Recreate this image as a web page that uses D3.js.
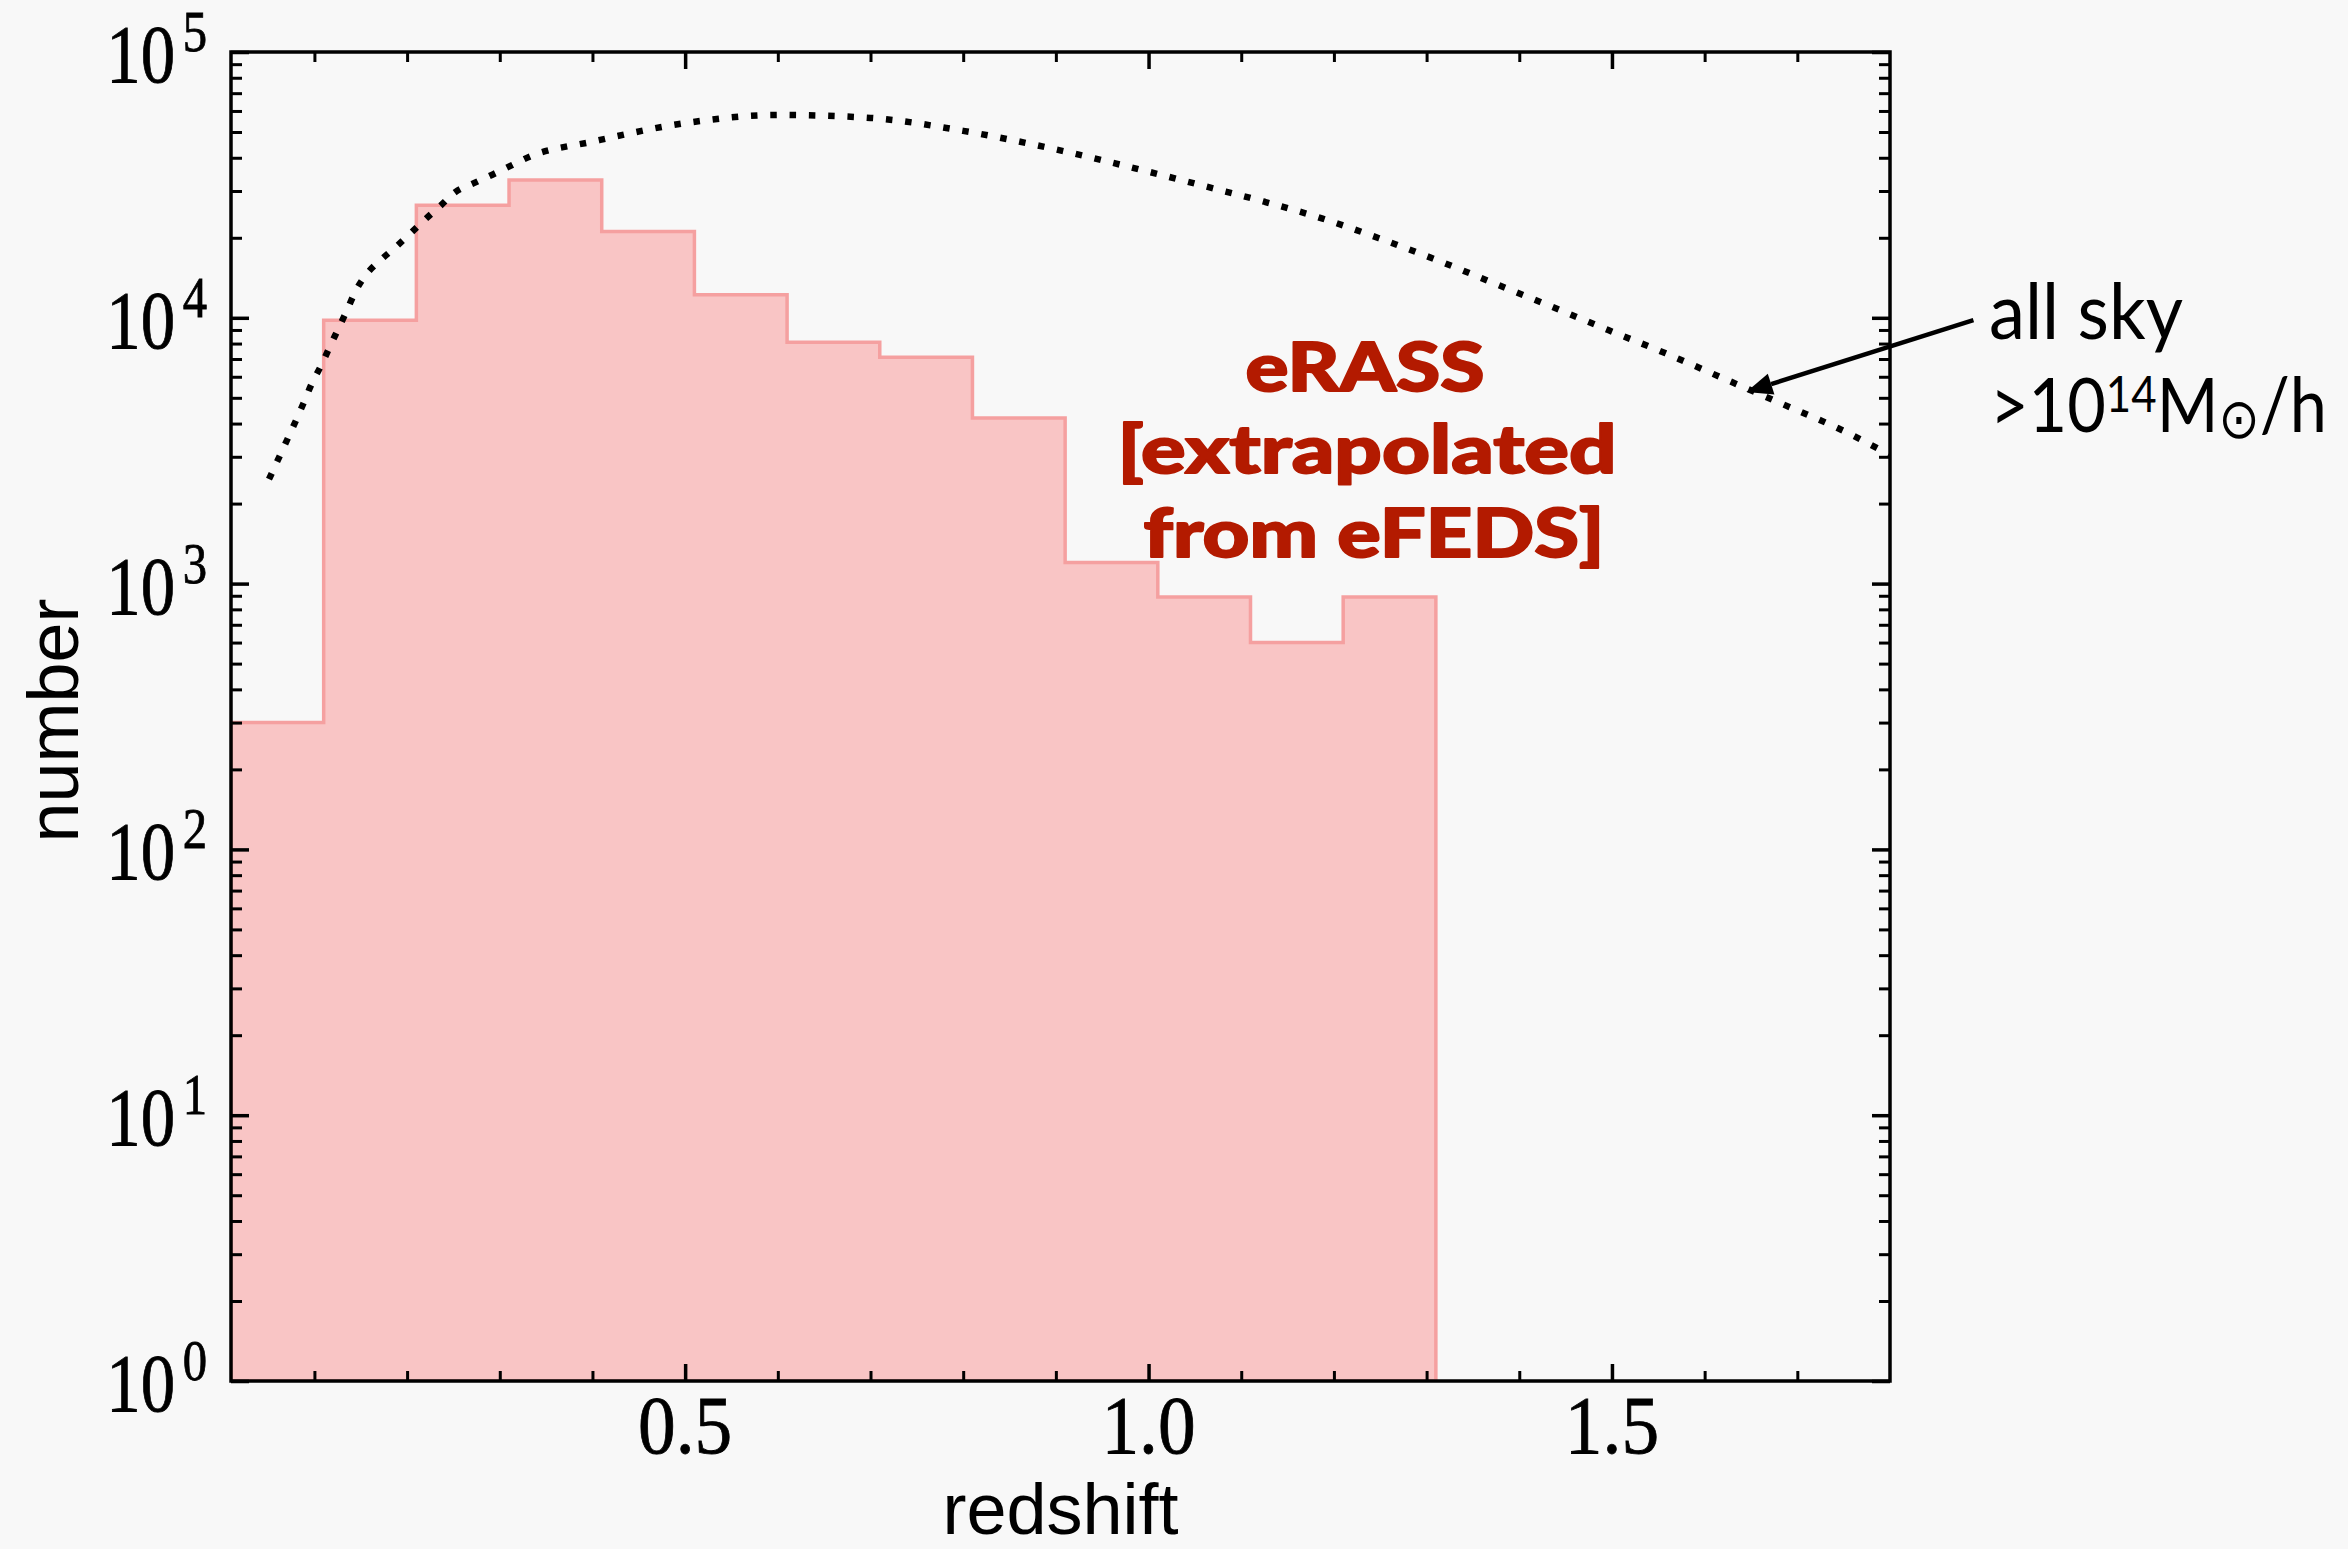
<!DOCTYPE html>
<html><head><meta charset="utf-8">
<script src="https://cdn.jsdelivr.net/npm/d3@7"></script>
<style>html,body{margin:0;padding:0;background:#f8f8f8;} svg{display:block;}</style>
</head><body>
<script>
// ---------- data ----------
const binEdges  = [0.01,0.11,0.21,0.31,0.41,0.51,0.61,0.71,0.81,0.91,1.01,1.11,1.21,1.31];
const binCounts = [300,9800,26500,33000,21100,12200,8100,7100,4200,1200,890,600,890];

const skyZ = [0.051,0.0705,0.0795,0.0885,0.097,0.107,0.1165,0.1257,0.135,0.144,0.1555,0.1715,0.1877,0.204,0.22,0.236,0.252,0.272,0.292,0.312,0.332,0.40,0.50,0.60,0.70,0.80,0.90,1.00,1.063,1.125,1.187,1.249,1.311,1.373,1.435,1.496,1.558,1.620,1.682,1.744,1.80];
const skyN = [2470,3470,4065,4795,5640,6590,7770,9080,10640,12530,14490,16500,18460,20840,23550,26400,29700,32100,34550,37350,40360,46000,54000,58000,56500,50500,43000,35450,31130,27330,23660,19900,16500,13480,11020,8990,7350,5920,4770,3840,3050];

const xMajorTicks  = [0.5,1.0,1.5];
const xMajorLabels = ["0.5","1.0","1.5"];
const xMinorTicks  = [0.1,0.2,0.3,0.4,0.6,0.7,0.8,0.9,1.1,1.2,1.3,1.4,1.6,1.7];
const yMajorTicks  = [1,10,100,1000,10000,100000];
const yExponents   = ["0","1","2","3","4","5"];

const xTitle = "redshift";
const yTitle = "number";
const surveyLabel = ["eRASS","[extrapolated","from eFEDS]"];
const arrowTip  = {z:1.645, n:5260};
const arrowTail = {z:1.89,  n:9800};

// ---------- layout ----------
const W=2348, H=1549;
const M={left:231,right:1890,top:52,bottom:1381};
const svg = d3.select("body").append("svg").attr("width",W).attr("height",H);
svg.append("rect").attr("width",W).attr("height",H).attr("fill","#f8f8f8");

const x = d3.scaleLinear().domain([0.01,1.8]).range([M.left,M.right]);
const y = d3.scaleLog().domain([1,1e5]).range([M.bottom,M.top]);

const defs = svg.append("defs");
defs.append("clipPath").attr("id","plotclip").append("rect")
  .attr("x",M.left).attr("y",M.top).attr("width",M.right-M.left).attr("height",M.bottom-M.top);

const plot = svg.append("g").attr("clip-path","url(#plotclip)");

// histogram (stepfilled)
const pts = [[binEdges[0],1]];
binCounts.forEach((c,i)=>{ pts.push([binEdges[i],c]); pts.push([binEdges[i+1],c]); });
pts.push([binEdges[binEdges.length-1],1]);
const histLine = d3.line().x(d=>x(d[0])).y(d=>y(d[1]));
plot.append("path").attr("d",histLine(pts)+"Z")
  .attr("fill","#f9c5c5").attr("stroke","#f5a0a0").attr("stroke-width",3.5)
  .attr("stroke-linejoin","miter");

// all sky dotted curve
const skyData = skyZ.map((z,i)=>({z, n:skyN[i]}));
plot.append("path").datum(skyData)
  .attr("d", d3.line().x(d=>x(d.z)).y(d=>y(d.n)).curve(d3.curveMonotoneX))
  .attr("fill","none").attr("stroke","#000").attr("stroke-width",6.5)
  .attr("stroke-dasharray","6.5 12.8").attr("stroke-linecap","butt");

// ---------- axes ----------
function styleAxis(g){ g.select(".domain").remove(); g.selectAll("line").attr("stroke","#000"); g.selectAll("text").remove(); }
const yMinor = [];
for(let p=0;p<5;p++) for(let k=2;k<=9;k++) yMinor.push(k*Math.pow(10,p));

function addAxis(gen, tr, vals, size, sw){
  svg.append("g").attr("transform",tr)
    .call(gen.tickValues(vals).tickSizeInner(size).tickSizeOuter(0)).call(styleAxis)
    .selectAll("line").attr("stroke-width",sw);
}
addAxis(d3.axisBottom(x), `translate(0,${M.bottom})`, xMajorTicks, -17, 3.5);
addAxis(d3.axisBottom(x), `translate(0,${M.bottom})`, xMinorTicks, -10, 3);
addAxis(d3.axisTop(x),    `translate(0,${M.top})`,    xMajorTicks, -17, 3.5);
addAxis(d3.axisTop(x),    `translate(0,${M.top})`,    xMinorTicks, -10, 3);
addAxis(d3.axisLeft(y),   `translate(${M.left},0)`,   yMajorTicks, -18, 3.5);
addAxis(d3.axisLeft(y),   `translate(${M.left},0)`,   yMinor,      -11, 3);
addAxis(d3.axisRight(y),  `translate(${M.right},0)`,  yMajorTicks, -18, 3.5);
addAxis(d3.axisRight(y),  `translate(${M.right},0)`,  yMinor,      -11, 3);

// frame
svg.append("rect").attr("x",M.left).attr("y",M.top).attr("width",M.right-M.left).attr("height",M.bottom-M.top)
  .attr("fill","none").attr("stroke","#000").attr("stroke-width",3.5);

// tick labels
const serif = "'Liberation Serif', 'Times New Roman', serif";
const sans  = "'Liberation Sans', Arial, sans-serif";
yMajorTicks.forEach((v,i)=>{
  const g = svg.append("g").attr("transform",`translate(${M.left-24},${y(v)}) scale(0.84,1)`);
  const t = g.append("text").attr("y",30).attr("text-anchor","end")
    .attr("font-family",serif).attr("font-size",82).attr("fill","#000")
    .attr("stroke","#000").attr("stroke-width",0.8);
  t.append("tspan").text("10");
  t.append("tspan").attr("dx",9).attr("dy",-31).attr("font-size",58).text(yExponents[i]);
});
xMajorTicks.forEach((v,i)=>{
  svg.append("g").attr("transform",`translate(${x(v)},${M.bottom+72}) scale(0.92,1)`)
    .append("text").attr("text-anchor","middle").attr("font-family",serif).attr("font-size",82)
    .attr("fill","#000").attr("stroke","#000").attr("stroke-width",0.8).text(xMajorLabels[i]);
});

// axis titles
svg.append("text").attr("x",(M.left+M.right)/2).attr("y",1534).attr("text-anchor","middle")
  .attr("font-family",sans).attr("font-size",72).attr("fill","#000").text(xTitle);
svg.append("text").attr("transform",`translate(78,${(M.top+M.bottom)/2+4}) rotate(-90)`).attr("text-anchor","middle")
  .attr("font-family",sans).attr("font-size",72).attr("fill","#000").text(yTitle);

// helper: place text and fit to a target width by horizontal scaling
function fitText(x0, y0, anchor, target, build){
  const g = svg.append("g").attr("transform",`translate(${x0},${y0})`);
  const t = g.append("text").attr("text-anchor",anchor);
  build(t);
  const w = t.node().getBBox().width;
  g.attr("transform",`translate(${x0},${y0}) scale(${target/w},1)`);
  return t;
}

// survey label
const labTargets = [239, 499, 461];
const labCenters = [1365, 1367, 1374];
[391,473,557].forEach((b,i)=>{
  fitText(labCenters[i], b, "middle", labTargets[i], t=>{
    t.attr("font-family","Lato, sans-serif").attr("font-weight",900).attr("font-size",67)
     .attr("fill","#b31a00").attr("stroke","#b31a00").attr("stroke-width",1.8)
     .attr("stroke-linejoin","round").text(surveyLabel[i]);
  });
});

// annotation arrow
const tip=[x(arrowTip.z),y(arrowTip.n)], tail=[x(arrowTail.z),y(arrowTail.n)];
const ang = Math.atan2(tip[1]-tail[1], tip[0]-tail[0]);
const hl=26, hw=11;
const base=[tip[0]-hl*Math.cos(ang), tip[1]-hl*Math.sin(ang)];
svg.append("line").attr("x1",tail[0]).attr("y1",tail[1]).attr("x2",base[0]).attr("y2",base[1])
  .attr("stroke","#000").attr("stroke-width",4.5);
svg.append("path").attr("d",`M${tip[0]},${tip[1]}L${base[0]-hw*Math.sin(ang)},${base[1]+hw*Math.cos(ang)}L${base[0]+hw*Math.sin(ang)},${base[1]-hw*Math.cos(ang)}Z`)
  .attr("fill","#000");

const ann = "Lato, 'Open Sans', sans-serif";
fitText(1989, 339, "start", 194, t=>{
  t.attr("font-family",ann).attr("font-size",78).attr("fill","#000").text("all sky");
});
fitText(1990, 432, "start", 337, t=>{
  t.attr("font-family",ann).attr("font-size",76).attr("fill","#000");
  t.append("tspan").text(">10");
  t.append("tspan").attr("dy",-20).attr("font-size",50).text("14");
  t.append("tspan").attr("dy",20).text("M");
  t.append("tspan").attr("dy",6).attr("font-size",56).attr("font-family","'DejaVu Sans'").text("⊙");
  t.append("tspan").attr("dy",-6).text("/h");
});
</script>
</body></html>
